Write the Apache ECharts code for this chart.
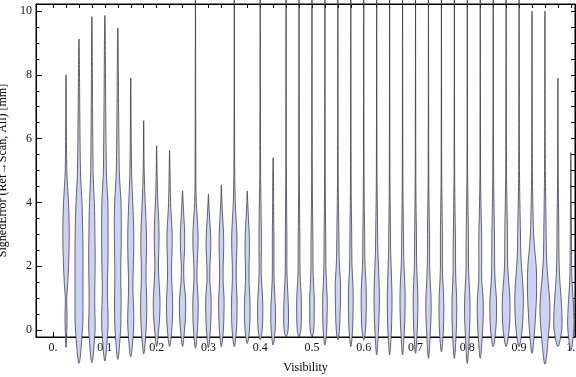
<!DOCTYPE html>
<html>
<head>
<meta charset="utf-8">
<script src="https://cdn.jsdelivr.net/npm/echarts@6/dist/echarts.min.js"></script>
<style>
  html, body { margin: 0; padding: 0; background: #fff; }
  #chart { width: 576px; height: 377px; }
</style>
</head>
<body>
<div id="chart"></div>
<script>
// violin centres (Visibility)
const positions = [
  0.025, 0.05, 0.075, 0.1, 0.125, 0.15, 0.175, 0.2, 0.225, 0.25,
  0.275, 0.3, 0.325, 0.35, 0.375, 0.4, 0.425, 0.45, 0.475, 0.5,
  0.525, 0.55, 0.575, 0.6, 0.625, 0.65, 0.675, 0.7, 0.725, 0.75,
  0.775, 0.8, 0.825, 0.85, 0.875, 0.9, 0.925, 0.95, 0.975, 1.0
];
// lowest / highest signed error of each violin [mm]
const lows = [
  -0.55, -1.05, -1.02, -0.97, -0.92, -0.84, -0.75, -0.52, -0.52, -0.52,
  -0.57, -0.55, -0.52, -0.52, -0.42, -0.31, -0.47, -0.21, -0.21, -0.21,
  -0.47, -0.31, -0.52, -0.31, -0.78, -0.78, -0.78, -0.73, -0.89, -0.68,
  -0.89, -1.05, -0.89, -0.52, -0.52, -0.52, -0.73, -1.07, -0.52, -0.63
];
const highs = [
  8.0, 9.12, 9.82, 9.86, 9.47, 7.9, 6.56, 5.78, 5.64, 4.36,
  10.6, 4.26, 4.55, 10.6, 4.36, 10.6, 5.4, 10.6, 10.6, 10.6,
  10.6, 10.6, 10.6, 10.6, 10.6, 10.6, 10.6, 10.6, 10.6, 10.6,
  10.6, 10.6, 10.6, 10.6, 10.6, 10.6, 10.0, 10.0, 7.9, 5.56
];
// density (relative half width) sampled at these error levels
const levels = [0, 0.5, 1, 1.5, 2, 2.5, 3, 3.5, 4, 5];
const density = [
  [0.8, 1.0, 0.7, 1.8, 2.5, 3.0, 3.2, 3.0, 2.5, 0.8],
  [3.5, 4.0, 4.0, 4.0, 4.0, 4.0, 3.8, 3.5, 3.0, 1.5],
  [3.2, 3.0, 2.8, 3.0, 3.2, 3.2, 3.0, 2.8, 2.4, 1.2],
  [3.0, 3.2, 2.6, 2.6, 3.0, 3.2, 3.2, 3.2, 3.0, 1.5],
  [2.8, 3.2, 3.3, 3.0, 3.0, 3.3, 3.5, 3.5, 3.2, 1.5],
  [2.8, 3.0, 2.4, 2.2, 2.6, 3.0, 3.0, 2.6, 2.0, 0.8],
  [2.4, 3.0, 3.0, 2.4, 2.4, 2.8, 2.8, 2.2, 1.5, 0.5],
  [2.0, 3.2, 3.3, 2.4, 1.8, 2.2, 2.4, 2.0, 1.2, 0.4],
  [2.2, 3.0, 3.0, 2.2, 2.0, 2.5, 2.6, 1.8, 1.0, 0.4],
  [2.0, 3.0, 3.0, 1.5, 1.2, 2.0, 2.2, 1.4, 0.6],
  [2.0, 2.6, 2.6, 1.6, 1.6, 2.4, 2.6, 1.8, 0.8, 0.4],
  [2.0, 2.6, 2.7, 1.5, 1.5, 2.3, 2.2, 1.2, 0.4],
  [2.0, 2.6, 2.7, 1.8, 1.8, 2.3, 2.2, 1.4, 0.6],
  [2.2, 2.7, 2.7, 2.0, 2.0, 2.5, 2.6, 1.8, 1.0, 0.4],
  [2.2, 2.8, 2.6, 1.8, 1.8, 2.2, 2.0, 1.2, 0.5],
  [2.0, 2.6, 2.4, 1.4, 1.0, 1.2, 1.2, 1.0, 0.8, 0.4],
  [2.0, 2.4, 1.8, 1.0, 0.8, 0.8, 0.8, 0.6, 0.5, 0.3],
  [2.0, 2.4, 2.0, 1.2, 0.8, 0.8, 0.8, 0.6, 0.5, 0.3],
  [1.8, 2.3, 2.3, 1.4, 0.9, 0.9, 0.8, 0.6, 0.5, 0.3],
  [1.8, 2.2, 2.3, 1.5, 1.0, 1.0, 0.9, 0.7, 0.5, 0.3],
  [1.8, 2.2, 2.3, 1.5, 1.0, 0.9, 0.8, 0.6, 0.5, 0.3],
  [1.6, 2.2, 2.6, 2.6, 1.6, 1.2, 1.0, 0.8, 0.6, 0.3],
  [1.8, 2.2, 2.4, 2.0, 1.2, 1.0, 0.9, 0.7, 0.5, 0.3],
  [1.8, 2.4, 2.6, 2.2, 1.3, 1.0, 0.9, 0.7, 0.5, 0.3],
  [1.8, 2.4, 2.7, 2.4, 1.8, 1.2, 1.0, 0.8, 0.6, 0.3],
  [1.8, 2.2, 2.4, 2.0, 1.5, 1.0, 0.9, 0.7, 0.5, 0.3],
  [1.8, 2.4, 2.6, 2.2, 1.4, 1.0, 0.9, 0.7, 0.5, 0.3],
  [1.8, 2.2, 2.4, 1.8, 1.2, 1.0, 0.9, 0.7, 0.5, 0.3],
  [2.0, 2.6, 2.6, 1.8, 1.2, 1.0, 1.0, 0.8, 0.6, 0.3],
  [2.0, 2.4, 2.3, 1.5, 1.0, 1.0, 1.0, 0.8, 0.6, 0.3],
  [2.0, 2.4, 2.3, 1.6, 1.2, 1.2, 1.0, 0.8, 0.6, 0.3],
  [2.2, 2.7, 2.6, 1.8, 1.2, 1.2, 1.1, 0.9, 0.7, 0.3],
  [2.4, 3.0, 2.8, 1.6, 1.4, 1.5, 1.4, 1.0, 0.7, 0.3],
  [2.6, 3.3, 3.2, 2.0, 1.5, 1.4, 1.3, 1.0, 0.8, 0.4],
  [3.0, 3.8, 3.8, 2.6, 1.6, 1.4, 1.3, 1.1, 0.8, 0.4],
  [3.0, 4.0, 4.3, 3.6, 2.4, 1.6, 1.4, 1.1, 0.8, 0.4],
  [2.6, 3.6, 4.4, 4.6, 4.2, 2.8, 1.6, 1.2, 0.8, 0.4],
  [4.0, 5.0, 4.6, 3.2, 2.0, 1.4, 1.2, 1.0, 0.8, 0.4],
  [3.8, 4.0, 3.2, 2.0, 1.3, 1.0, 0.9, 0.8, 0.6, 0.3],
  [3.0, 3.0, 2.2, 1.2, 0.8, 0.7, 0.6, 0.5, 0.4, 0.2]
];

const xTickValues = [0, 0.1, 0.2, 0.3, 0.4, 0.5, 0.6, 0.7, 0.8, 0.9, 1];
const xTickLabels = ['0.', '0.1', '0.2', '0.3', '0.4', '0.5', '0.6', '0.7', '0.8', '0.9', '1.'];
const yTickValues = [0, 2, 4, 6, 8, 10];
const yTickLabels = ['0', '2', '4', '6', '8', '10'];

const xMinor = [];
for (let i = 0; i <= 40; i++) xMinor.push(+(i * 0.025).toFixed(3));
const yMinor = [];
for (let i = 0; i <= 20; i++) yMinor.push(i * 0.5);

const HALF = 0.00193; // x units per density unit
const FONT = '"Liberation Serif", "DejaVu Serif", serif';
const X_MIN = -0.033, X_MAX = 1.008, Y_MIN = -0.22, Y_MAX = 10.22;

function pickLabel(values, labels) {
  return function (v) {
    for (let i = 0; i < values.length; i++) {
      if (Math.abs(values[i] - v) < 1e-6) return labels[i];
    }
    return '';
  };
}

function renderViolin(params, api) {
  const i = api.value(3);
  const x = api.value(0), lo = api.value(1), hi = api.value(2);
  const d = density[i];
  const right = [[x, lo]];
  levels.forEach(function (v, j) {
    if (v > lo && v < hi && d[j] != null) right.push([x + d[j] * HALF, v]);
  });
  right.push([x, hi]);
  const left = right.slice(1, -1).reverse().map(function (p) { return [2 * x - p[0], p[1]]; });
  const pts = right.concat(left).map(function (p) { return api.coord(p); });
  return {
    type: 'polygon',
    shape: { points: pts, smooth: 0.35 },
    style: { fill: '#ccd2f5', stroke: 'rgba(55,55,60,0.75)', lineWidth: 1 }
  };
}

function tickAxis(grid, pos, min, max, values, len, line) {
  return {
    type: 'value', gridIndex: grid, position: pos, min: min, max: max,
    axisLine: { show: line, onZero: false, lineStyle: { color: '#000', width: 1 } },
    axisTick: { show: true, inside: true, length: len, customValues: values, lineStyle: { color: '#000' } },
    axisLabel: { show: false },
    splitLine: { show: false }
  };
}

const chart = echarts.init(document.getElementById('chart'));
const gridBox = { left: 36, right: 1, top: 4, bottom: 40, containLabel: false, outerBoundsMode: 'none' };
const frameBox = Object.assign({ show: true, borderColor: '#000', borderWidth: 1, backgroundColor: 'transparent' }, gridBox);

const xMain = tickAxis(0, 'bottom', X_MIN, X_MAX, xTickValues, 5, true);
xMain.name = 'Visibility';
xMain.nameLocation = 'middle';
xMain.nameGap = 25;
xMain.nameTextStyle = { fontFamily: FONT, fontSize: 12, color: '#000' };
xMain.axisLabel = {
  show: true, customValues: xTickValues, formatter: pickLabel(xTickValues, xTickLabels),
  fontFamily: FONT, fontSize: 12, color: '#111', margin: 5
};

const yMain = tickAxis(0, 'left', Y_MIN, Y_MAX, yTickValues, 6, true);
yMain.name = 'SignedError (Ref\u2192Scan, All) [mm]';
yMain.nameLocation = 'middle';
yMain.nameGap = 21;
yMain.nameTextStyle = { fontFamily: FONT, fontSize: 12, color: '#000' };
yMain.axisLabel = {
  show: true, customValues: yTickValues, formatter: pickLabel(yTickValues, yTickLabels),
  fontFamily: FONT, fontSize: 12, color: '#111', margin: 4
};

chart.setOption({
  animation: false,
  backgroundColor: '#fff',
  grid: [frameBox, gridBox],
  xAxis: [
    xMain,
    tickAxis(0, 'top', X_MIN, X_MAX, xMinor, 4, true),
    tickAxis(1, 'bottom', X_MIN, X_MAX, xMinor, 3, false)
  ],
  yAxis: [
    yMain,
    tickAxis(0, 'right', Y_MIN, Y_MAX, yMinor, 4, true),
    tickAxis(1, 'left', Y_MIN, Y_MAX, yMinor, 3.5, false)
  ],
  series: [
    {
      type: 'custom',
      xAxisIndex: 0,
      yAxisIndex: 0,
      clip: false,
      silent: true,
      renderItem: renderViolin,
      encode: { x: 0, y: [1, 2] },
      data: positions.map(function (p, i) { return [p, lows[i], highs[i], i]; })
    }
  ]
});
</script>
</body>
</html>
